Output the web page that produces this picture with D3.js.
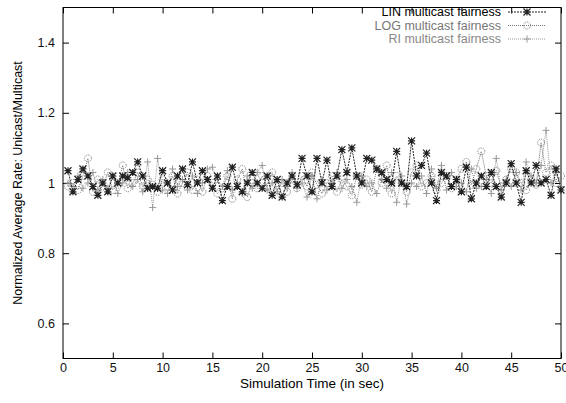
<!DOCTYPE html>
<html>
<head>
<meta charset="utf-8">
<script src="https://cdn.jsdelivr.net/npm/d3@7"></script>
<style>
  body { margin: 0; background: #fff; }
  svg { font-family: "Liberation Sans", Helvetica, Arial, sans-serif; }
</style>
</head>
<body>
<div id="chart"></div>
<script>
// sample times: every 0.5 s
const times = d3.range(1, 101).map(i => i * 0.5);

const linValues = [
  1.035, 0.975, 1.01, 1.04, 1.02, 0.99, 0.965, 1.00, 0.975, 1.02,
  1.00, 1.02, 1.015, 1.03, 1.06, 1.02, 0.985, 0.99, 0.985, 1.035,
  1.00, 0.98, 1.02, 1.04, 0.995, 1.06, 1.00, 1.035, 1.01, 0.985,
  1.02, 0.95, 0.99, 1.045, 0.99, 0.975, 1.00, 1.03, 1.00, 0.985,
  1.02, 0.965, 1.01, 0.96, 1.00, 1.02, 0.995, 1.07, 1.02, 0.975,
  1.07, 1.00, 1.065, 0.99, 1.02, 1.095, 1.03, 1.10, 1.02, 1.00,
  1.07, 1.065, 1.04, 1.03, 1.01, 1.00, 1.09, 1.00, 0.99, 1.12,
  1.02, 1.05, 1.085, 1.00, 0.95, 1.03, 1.02, 0.99, 1.01, 0.975,
  1.045, 0.955, 1.00, 1.02, 0.99, 1.03, 0.99, 0.96, 1.00, 1.055,
  1.00, 0.945, 1.035, 1.00, 1.05, 1.00, 1.01, 0.965, 1.04, 0.98
];

const logValues = [
  0.99, 1.00, 0.98, 1.02, 1.07, 0.975, 1.01, 0.99, 1.03, 0.98,
  0.995, 1.05, 0.985, 1.00, 1.03, 0.99, 1.01, 0.995, 0.975, 1.01,
  0.99, 1.02, 0.97, 1.00, 1.03, 0.98, 1.01, 0.975, 1.02, 1.00,
  0.97, 0.985, 1.02, 0.955, 1.01, 1.04, 0.96, 1.00, 0.985, 1.02,
  0.99, 1.03, 0.98, 1.00, 0.975, 1.01, 0.985, 1.02, 0.99, 1.03,
  0.995, 0.97, 1.00, 1.02, 0.975, 1.01, 0.99, 0.965, 1.02, 0.995,
  1.01, 0.975, 1.04, 1.00, 1.05, 0.97, 1.02, 1.00, 0.975, 1.03,
  1.05, 0.99, 1.00, 1.02, 0.98, 1.00, 1.02, 0.985, 1.01, 1.04,
  1.06, 0.995, 1.04, 1.09, 1.02, 1.00, 1.035, 0.99, 1.01, 1.04,
  1.03, 1.00, 0.98, 1.01, 0.995, 1.115, 1.03, 1.05, 1.00, 1.02
];

const riValues = [
  1.00, 0.99, 1.02, 0.985, 1.00, 1.03, 0.98, 1.01, 0.985, 1.02,
  0.97, 1.00, 1.03, 0.99, 1.01, 0.975, 1.06, 0.93, 1.07, 0.98,
  0.97, 1.04, 0.99, 1.01, 0.98, 1.02, 0.97, 1.00, 1.04, 1.045,
  1.01, 0.99, 1.035, 0.98, 1.00, 0.97, 1.02, 0.985, 1.03, 1.05,
  0.98, 1.00, 0.975, 1.01, 0.99, 1.03, 0.985, 1.00, 0.96, 1.02,
  0.955, 1.01, 0.98, 1.00, 1.03, 0.985, 1.01, 0.99, 0.945, 1.02,
  0.99, 1.00, 0.97, 1.01, 0.985, 1.03, 0.945, 1.02, 0.94, 1.00,
  0.99, 1.02, 0.97, 1.04, 0.985, 1.05, 0.98, 1.03, 0.99, 1.00,
  0.975, 1.04, 0.985, 0.99, 1.01, 0.97, 1.07, 0.98, 1.01, 0.99,
  1.03, 0.98, 1.06, 1.02, 1.00, 1.05, 1.15, 1.00, 1.03, 0.99
];

const xTicks = d3.range(0, 51, 5);
const yTicks = [0.6, 0.8, 1, 1.2, 1.4];

const series = [
  { name: "LIN multicast fairness", values: linValues, color: "#222", text: "#000", dash: "2,1", marker: "star" },
  { name: "LOG multicast fairness", values: logValues, color: "#777", text: "#777", dash: "1,1", marker: "circle" },
  { name: "RI multicast fairness", values: riValues, color: "#999", text: "#888", dash: "1,1", marker: "plus" }
];

const width = 566, height = 403;
const margin = { top: 7.5, right: 5, bottom: 44.5, left: 63 };

const svg = d3.select("#chart").append("svg")
  .attr("width", width)
  .attr("height", height);

const x = d3.scaleLinear().domain([0, 50]).range([margin.left, width - margin.right]);
const y = d3.scaleLinear().domain([0.5, 1.5]).range([height - margin.bottom, margin.top]);

const tickLen = 6;

// axes with inward ticks, mirrored on the opposite side
const fmtY = d => d === 1 ? "1" : d3.format(".1f")(d);

const bottomAxis = svg.append("g")
  .attr("transform", `translate(0,${y(0.5)})`)
  .call(d3.axisBottom(x).tickValues(xTicks).tickSize(-tickLen).tickPadding(5).tickFormat(d3.format("d")));
const topAxis = svg.append("g")
  .attr("transform", `translate(0,${y(1.5)})`)
  .call(d3.axisTop(x).tickValues(xTicks).tickSize(-tickLen).tickFormat(""));
const leftAxis = svg.append("g")
  .attr("transform", `translate(${x(0)},0)`)
  .call(d3.axisLeft(y).tickValues(yTicks).tickSize(-tickLen).tickPadding(8).tickFormat(fmtY));
const rightAxis = svg.append("g")
  .attr("transform", `translate(${x(50)},0)`)
  .call(d3.axisRight(y).tickValues(yTicks).tickSize(-tickLen).tickFormat(""));

[bottomAxis, topAxis, leftAxis, rightAxis].forEach(g => {
  g.select(".domain").remove();
  g.selectAll(".tick line").attr("stroke", "#000");
  g.selectAll(".tick text")
    .attr("fill", "#111")
    .style("font-size", "12.5px")
    .style("font-family", "Liberation Sans, Helvetica, Arial, sans-serif");
});

// frame
svg.append("rect")
  .attr("x", x(0)).attr("y", y(1.5))
  .attr("width", x(50) - x(0)).attr("height", y(0.5) - y(1.5))
  .attr("fill", "none").attr("stroke", "#000").attr("stroke-width", 1);

function drawMarker(g, type, cx, cy, color) {
  if (type === "star") {
    const s = 3.5;
    g.append("path")
      .attr("d", `M${cx - s},${cy - s}L${cx + s},${cy + s}M${cx - s},${cy + s}L${cx + s},${cy - s}M${cx},${cy - s}L${cx},${cy + s}M${cx - s},${cy}L${cx + s},${cy}`)
      .attr("stroke", color).attr("stroke-width", 1.2).attr("fill", "none");
  } else if (type === "circle") {
    g.append("circle")
      .attr("cx", cx).attr("cy", cy).attr("r", 3.5)
      .attr("stroke", color).attr("stroke-width", 1)
      .attr("stroke-dasharray", "1,1").attr("fill", "none");
  } else {
    const s = 3.5;
    g.append("path")
      .attr("d", `M${cx},${cy - s}L${cx},${cy + s}M${cx - s},${cy}L${cx + s},${cy}`)
      .attr("stroke", color).attr("stroke-width", 1).attr("fill", "none");
  }
}

const line = d3.line().x(d => x(d[0])).y(d => y(d[1]));

// draw in reverse so LIN sits on top
series.slice().reverse().forEach(s => {
  const pts = times.map((t, i) => [t, s.values[i]]);
  const g = svg.append("g");
  g.append("path")
    .datum(pts)
    .attr("d", line)
    .attr("fill", "none")
    .attr("stroke", s.color)
    .attr("stroke-width", 1)
    .attr("stroke-dasharray", s.dash);
  pts.forEach(p => drawMarker(g, s.marker, x(p[0]), y(p[1]), s.color));
});

// legend
const legend = svg.append("g");
series.forEach((s, i) => {
  const ly = 12 + i * 13.5;
  legend.append("text")
    .attr("x", 501).attr("y", ly).attr("dy", "0.35em")
    .attr("text-anchor", "end")
    .style("font-size", "12.5px")
    .attr("fill", s.text)
    .text(s.name);
  legend.append("line")
    .attr("x1", 508).attr("x2", 546).attr("y1", ly).attr("y2", ly)
    .attr("stroke", s.color).attr("stroke-dasharray", s.dash);
  drawMarker(legend, s.marker, 527, ly, s.color);
});

// axis titles
svg.append("text")
  .attr("x", (x(0) + x(50)) / 2).attr("y", 388)
  .attr("text-anchor", "middle")
  .style("font-size", "13.5px")
  .text("Simulation Time (in sec)");

svg.append("text")
  .attr("transform", `translate(22,${y(1)}) rotate(-90)`)
  .attr("text-anchor", "middle")
  .style("font-size", "12.5px")
  .text("Normalized Average Rate: Unicast/Multicast");
</script>
</body>
</html>
